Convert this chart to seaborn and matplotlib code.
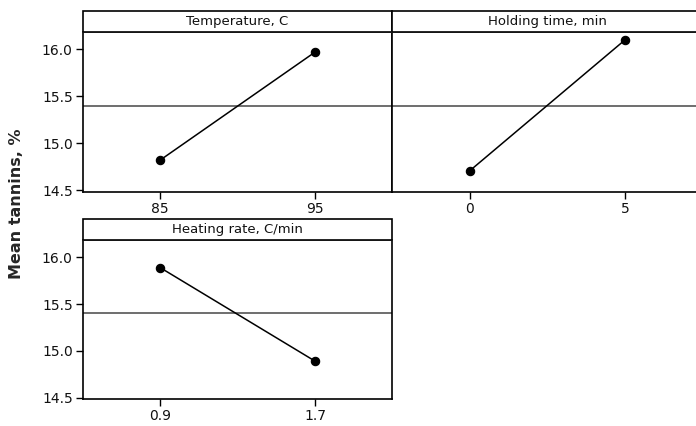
import matplotlib
matplotlib.use("Agg")
import matplotlib.pyplot as plt
from matplotlib.patches import Rectangle
import seaborn as sns
import pandas as pd

# Main effects: mean tannin content at each factor level
factors = ["Temperature, C", "Holding time, min", "Heating rate, C/min"]
temp_levels = ["85", "95"]
temp_means = [14.82, 15.97]
hold_levels = ["0", "5"]
hold_means = [14.71, 16.10]
rate_levels = ["0.9", "1.7"]
rate_means = [15.89, 14.89]
grand_mean = 15.40
y_ticks = [14.5, 15.0, 15.5, 16.0]

sns.set_theme(style="white")
plt.rcParams["font.family"] = ["DejaVu Sans"]

W, H = 696, 426
fig = plt.figure(figsize=(W / 100, H / 100), dpi=100)


def px_axes(x0, x1, y0, y1):
    # pixel box (top-origin) -> figure fraction
    return fig.add_axes([x0 / W, 1 - y1 / H, (x1 - x0) / W, (y1 - y0) / H])


panels = [
    (px_axes(82.5, 392.5, 32, 192), factors[0], temp_levels, temp_means, True),
    (px_axes(392.5, 702.5, 32, 192), factors[1], hold_levels, hold_means, False),
    (px_axes(82.5, 392.5, 240, 399.3), factors[2], rate_levels, rate_means, True),
]

header_h = 21.5 / 160

for ax, title, levels, means, show_y in panels:
    df = pd.DataFrame({"level": levels, "mean": means})
    sns.pointplot(data=df, x="level", y="mean", order=levels, ax=ax,
                  color="black", errorbar=None, markers="o",
                  markersize=6, linewidth=1.1)
    ax.axhline(grand_mean, color="#6e6e6e", lw=1.4, zorder=1)
    ax.set_xlim(-0.5, 1.5)
    ax.set_ylim(14.482, 16.184)
    ax.set_yticks(y_ticks)
    ax.set_yticklabels([f"{v:.1f}" for v in y_ticks] if show_y else [])
    ax.set_xlabel("")
    ax.set_ylabel("")
    for name, sp in ax.spines.items():
        sp.set_visible(True)
        sp.set_linewidth(1.2)
        sp.set_color("black")
    ax.spines["top"].set_color("#6e6e6e")
    ax.tick_params(axis="both", direction="out", length=5, width=1,
                   color="black", labelsize=10, labelcolor="#111111", pad=2)
    ax.tick_params(axis="x", bottom=True)
    ax.tick_params(axis="y", left=show_y)
    # strip header above the data area
    ax.add_patch(Rectangle((0, 1), 1, header_h, transform=ax.transAxes,
                           facecolor="white", edgecolor="black", lw=1.2,
                           clip_on=False, zorder=3))
    ax.text(0.5, 1 + header_h / 2, title, transform=ax.transAxes,
            ha="center", va="center", fontsize=9.5, color="#111111", zorder=4)

fig.text(17 / W, 1 - 204 / H, "Mean tannins, %", rotation=90,
         ha="center", va="center", fontsize=11.5, fontweight="bold")

fig.savefig("out.png", dpi=100)
